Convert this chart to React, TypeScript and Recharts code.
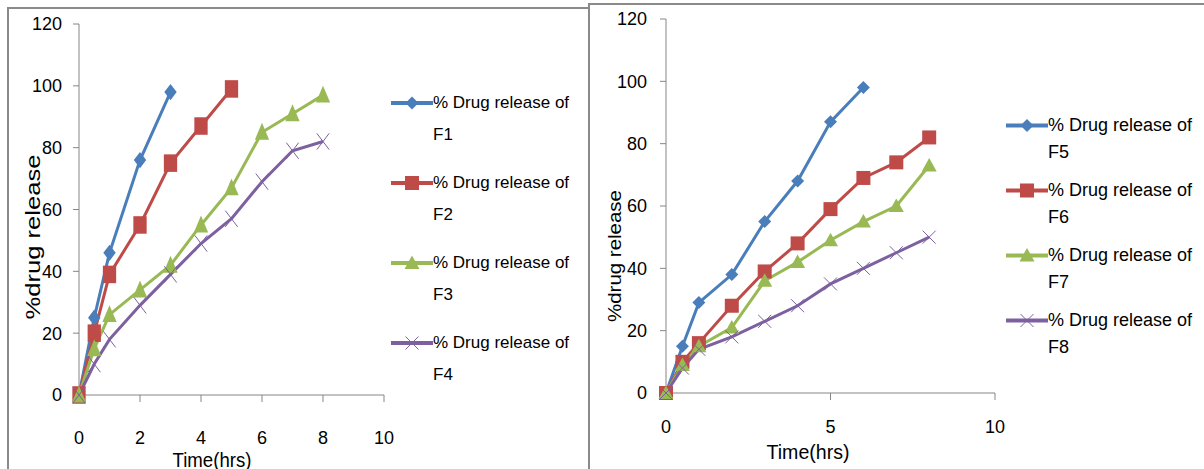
import React from "react";
import { LineChart, Line, XAxis, YAxis } from "recharts";

// sampling times (hrs)
const times = [0, 0.5, 1, 2, 3, 4, 5, 6, 7, 8];

// % drug release, left panel
const f1 = [0, 25, 46, 76, 98];
const f2 = [0, 20, 39, 55, 75, 87, 99];
const f3 = [0, 15, 26, 34, 42, 55, 67, 85, 91, 97];
const f4 = [0, 10, 18, 29, 39, 49, 57, 69, 79, 82];

// % drug release, right panel
const f5 = [0, 15, 29, 38, 55, 68, 87, 98];
const f6 = [0, 10, 16, 28, 39, 48, 59, 69, 74, 82];
const f7 = [0, 9, 15, 21, 36, 42, 49, 55, 60, 73];
const f8 = [0, 8, 14, 18, 23, 28, 35, 40, 45, 50];

const yTicks = [0, 20, 40, 60, 80, 100, 120];
const xTicksLeft = [0, 2, 4, 6, 8, 10];
const xTicksRight = [0, 5, 10];

const FONT = '"Liberation Sans", Arial, sans-serif';
const AXIS = "#868686";
const BLUE = "#4A7EBB";
const RED = "#BE4B48";
const GREEN = "#98B954";
const PURPLE = "#7D60A0";

const toPoints = (vals: number[]) => vals.map((v, i) => ({ t: times[i], v }));

type Shape = "diamond" | "square" | "triangle" | "cross";

// sx / sy: half width / half height of the marker
const marker = (shape: Shape, cx: number, cy: number, color: string, sx: number, sy: number) => {
  if (shape === "diamond")
    return <path d={`M${cx},${cy - sy} L${cx + sx},${cy} L${cx},${cy + sy} L${cx - sx},${cy} Z`} fill={color} />;
  if (shape === "square")
    return <rect x={cx - sx} y={cy - sy} width={sx * 2} height={sy * 2} fill={color} />;
  if (shape === "triangle")
    return <path d={`M${cx},${cy - sy} L${cx + sx},${cy + sy * 0.8} L${cx - sx},${cy + sy * 0.8} Z`} fill={color} />;
  return (
    <g stroke={color} strokeWidth={1}>
      <line x1={cx - sx} y1={cy - sy} x2={cx + sx} y2={cy + sy} />
      <line x1={cx - sx} y1={cy + sy} x2={cx + sx} y2={cy - sy} />
    </g>
  );
};

const sizes: Record<Shape, number> = { diamond: 6.5, square: 7, triangle: 7.5, cross: 6.5 };

const makeDot = (shape: Shape, color: string, sx: number, sy: number) => (p: any) => (
  <g key={`${shape}-${p.index}`}>{marker(shape, p.cx, p.cy, color, sizes[shape] * sx, sizes[shape] * sy)}</g>
);

interface Series {
  name: string;
  vals: number[];
  color: string;
  shape: Shape;
}

const leftSeries: Series[] = [
  { name: "F1", vals: f1, color: BLUE, shape: "diamond" },
  { name: "F2", vals: f2, color: RED, shape: "square" },
  { name: "F3", vals: f3, color: GREEN, shape: "triangle" },
  { name: "F4", vals: f4, color: PURPLE, shape: "cross" },
];

const rightSeries: Series[] = [
  { name: "F5", vals: f5, color: BLUE, shape: "diamond" },
  { name: "F6", vals: f6, color: RED, shape: "square" },
  { name: "F7", vals: f7, color: GREEN, shape: "triangle" },
  { name: "F8", vals: f8, color: PURPLE, shape: "cross" },
];

const SideLegend = ({ series, fontSize, lineHeight, gap, left, top }: any) => (
  <div style={{ position: "absolute", left, top, fontFamily: FONT, fontSize, color: "#000" }}>
    {series.map((s: Series) => (
      <div key={s.name} style={{ display: "flex", alignItems: "flex-start", marginBottom: gap }}>
        <svg width={42} height={lineHeight} style={{ flex: "none" }}>
          <line x1={0} y1={lineHeight / 2} x2={42} y2={lineHeight / 2} stroke={s.color} strokeWidth={4} />
          {marker(s.shape, 21, lineHeight / 2, s.color, sizes[s.shape], sizes[s.shape])}
        </svg>
        <div style={{ lineHeight: `${lineHeight}px`, whiteSpace: "nowrap" }}>
          % Drug release of
          <br />
          {s.name}
        </div>
      </div>
    ))}
  </div>
);

interface PanelProps {
  series: Series[];
  width: number;
  margin: { top: number; right: number; left: number; bottom: number };
  xAxisHeight: number;
  xTicks: number[];
  xTickMargin: number;
  yTickMargin: number;
  yTitle: { x: number; y: number; len: number; size: number };
  xTitle: { x: number; y: number; len: number; size: number };
  mx: number;
  my: number;
}

const Panel = (p: PanelProps) => (
  <LineChart width={p.width} height={469} margin={p.margin}>
    <XAxis
      type="number"
      dataKey="t"
      domain={[0, 10]}
      ticks={p.xTicks}
      height={p.xAxisHeight}
      stroke={AXIS}
      tickSize={7}
      tickMargin={p.xTickMargin}
      tick={{ fill: "#000", fontSize: 18, fontFamily: FONT }}
      allowDuplicatedCategory={false}
      label={{
        content: () => (
          <text
            x={p.xTitle.x}
            y={p.xTitle.y}
            textAnchor="middle"
            dominantBaseline="central"
            fontFamily={FONT}
            fontSize={p.xTitle.size}
            textLength={p.xTitle.len}
            lengthAdjust="spacingAndGlyphs"
            fill="#000"
          >
            Time(hrs)
          </text>
        ),
      }}
    />
    <YAxis
      type="number"
      domain={[0, 120]}
      ticks={yTicks}
      width={60}
      stroke={AXIS}
      tickSize={6}
      tickMargin={p.yTickMargin}
      tick={{ fill: "#000", fontSize: 18, fontFamily: FONT }}
      label={{
        content: () => (
          <text
            x={p.yTitle.x}
            y={p.yTitle.y}
            transform={`rotate(-90 ${p.yTitle.x} ${p.yTitle.y})`}
            textAnchor="middle"
            dominantBaseline="central"
            fontFamily={FONT}
            fontSize={p.yTitle.size}
            textLength={p.yTitle.len}
            lengthAdjust="spacingAndGlyphs"
            fill="#000"
          >
            %drug release
          </text>
        ),
      }}
    />
    {p.series.map((s) => (
      <Line
        key={s.name}
        data={toPoints(s.vals)}
        dataKey="v"
        name={`% Drug release of ${s.name}`}
        type="linear"
        stroke={s.color}
        strokeWidth={3}
        dot={makeDot(s.shape, s.color, p.mx, p.my)}
        activeDot={false}
        isAnimationActive={false}
      />
    ))}
  </LineChart>
);

export default function App() {
  return (
    <div style={{ position: "absolute", left: 0, top: 0, width: 1204, height: 469, background: "#fff", overflow: "hidden" }}>
      <div
        style={{
          position: "absolute",
          left: 7,
          top: 7,
          width: 579,
          height: 480,
          border: "2px solid #8a8a8a",
        }}
      />
      <div
        style={{
          position: "absolute",
          left: 588,
          top: 3,
          width: 640,
          height: 480,
          border: "2px solid #8a8a8a",
        }}
      />
      <div style={{ position: "absolute", left: 0, top: 0 }}>
        <Panel
          series={leftSeries}
          width={588}
          margin={{ top: 24, right: 204, left: 19, bottom: 0 }}
          xAxisHeight={74}
          xTicks={xTicksLeft}
          xTickMargin={29}
          yTickMargin={11}
          yTitle={{ x: 32, y: 237, len: 165, size: 21 }}
          xTitle={{ x: 212, y: 459, len: 79, size: 21 }}
          mx={0.95}
          my={1.25}
        />
        <SideLegend series={leftSeries} fontSize={17} lineHeight={32} gap={16} left={391} top={87} />
      </div>
      <div style={{ position: "absolute", left: 588, top: 0 }}>
        <Panel
          series={rightSeries}
          width={616}
          margin={{ top: 19, right: 209, left: 18, bottom: 0 }}
          xAxisHeight={76}
          xTicks={xTicksRight}
          xTickMargin={20}
          yTickMargin={13}
          yTitle={{ x: 27, y: 256, len: 132, size: 18 }}
          xTitle={{ x: 220, y: 452, len: 83, size: 20 }}
          mx={1}
          my={1}
        />
        <SideLegend series={rightSeries} fontSize={18} lineHeight={27} gap={11} left={418} top={112} />
      </div>
    </div>
  );
}
